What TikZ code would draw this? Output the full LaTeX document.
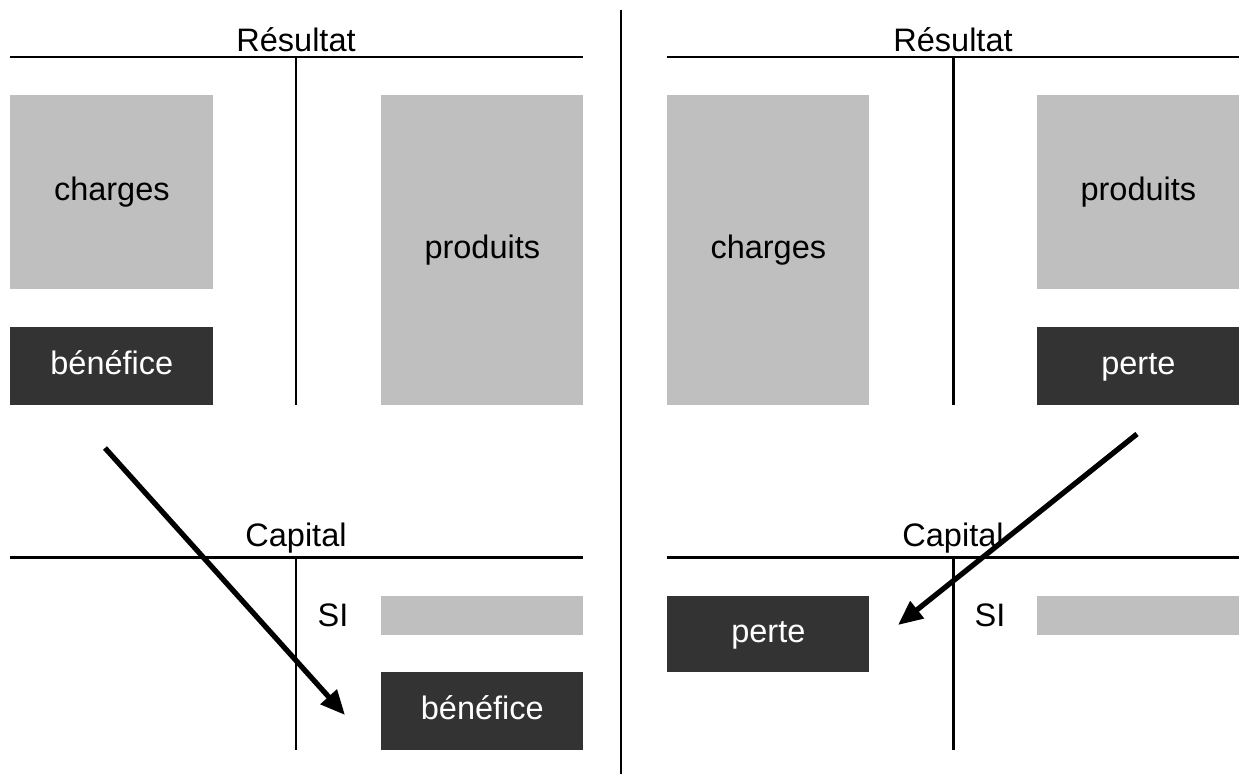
\documentclass[tikz,border=0pt]{standalone}
\usepackage{fontspec}
\setmainfont{Liberation Sans}
\tikzset{
  lightbox/.style={fill=black!25, inner sep=0pt, anchor=north west, text height=0.95em, text depth=0.05em, font=\fontsize{18.5}{22}\selectfont},
  darkbox/.style={fill=black!80, text=white, inner sep=0pt, anchor=north west, text height=0.95em, text depth=0.05em, font=\fontsize{18.5}{22}\selectfont},
  title/.style={font=\fontsize{18.5}{22}\selectfont, inner sep=0pt},
  tline/.style={line width=1.7pt},
  flow/.style={line width=3pt, -{Triangle[length=14pt,width=12pt]}}
}
\usetikzlibrary{arrows.meta}
\begin{document}
\begin{tikzpicture}[x=0.02cm,y=-0.02cm]
        \useasboundingbox (0,0) rectangle (1239,774);
        % separation
        \draw[line width=1.2pt] (621,10) -- (621,774);

        % left: resultat
        \node[title] (resL) at (296,40) {Résultat};
        \draw[tline] (10,57) -- (583,57);
        \draw[tline] (296,57) -- (296,405);
        \node[lightbox, minimum width=4.06cm, minimum height=3.88cm] (chL) at (10,95) {charges};
        \node[darkbox, minimum width=4.06cm, minimum height=1.56cm] (benL) at (10,327) {bénéfice};
        \node[lightbox, minimum width=4.04cm, minimum height=6.2cm] (prL) at (381,95) {produits};

        % left: capital
        \node[title] (capL) at (296,538) {Capital};
        \draw[tline] (10,557) -- (583,557);
        \draw[tline] (296,557) -- (296,750);
        \node[title] (siL) at (333,615) {SI};
        \node[lightbox, minimum width=4.04cm, minimum height=0.78cm] (siboxL) at (381,596) {};
        \node[darkbox, minimum width=4.04cm, minimum height=1.56cm] (benC) at (381,672) {bénéfice};

        \coordinate (fromL) at (105,448);
        \coordinate (toL) at (345,715);
        \draw[flow] (fromL) -- (toL);

        % right: resultat
        \node[title] (resR) at (953,40) {Résultat};
        \draw[tline] (667,57) -- (1239,57);
        \draw[tline] (953,57) -- (953,405);
        \node[lightbox, minimum width=4.04cm, minimum height=6.2cm] (chR) at (667,95) {charges};
        \node[lightbox, minimum width=4.04cm, minimum height=3.88cm] (prR) at (1037,95) {produits};
        \node[darkbox, minimum width=4.04cm, minimum height=1.56cm] (pertR) at (1037,327) {perte};

        % right: capital
        \node[title] (capR) at (953,538) {Capital};
        \draw[tline] (667,557) -- (1239,557);
        \draw[tline] (953,557) -- (953,750);
        \node[darkbox, minimum width=4.04cm, minimum height=1.52cm] (pertC) at (667,596) {perte};
        \node[title] (siR) at (990,615) {SI};
        \node[lightbox, minimum width=4.04cm, minimum height=0.78cm] (siboxR) at (1037,596) {};

        \coordinate (fromR) at (1137,434);
        \coordinate (toR) at (898,625);
        \draw[flow] (fromR) -- (toR);
    \end{tikzpicture}
\end{document}
